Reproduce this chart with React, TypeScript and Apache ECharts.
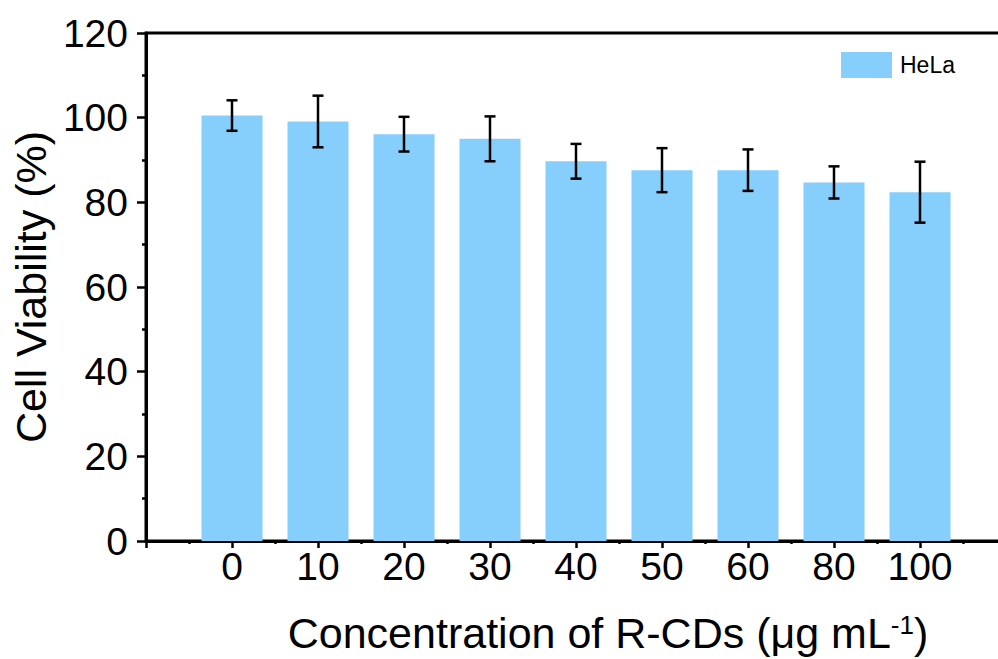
import React, { useEffect, useRef } from "react";
import * as echarts from "echarts";

const categories = ["0", "10", "20", "30", "40", "50", "60", "80", "100"];
const viability = [100.5, 99.1, 96.1, 95.0, 89.7, 87.6, 87.6, 84.7, 82.4];
const sd = [3.6, 6.1, 4.1, 5.3, 4.1, 5.2, 4.9, 3.8, 7.2];
const yTicks = [0, 20, 40, 60, 80, 100, 120];

const FONT = 'Arial, "Liberation Sans", sans-serif';
const BAR_COLOR = "#86CEFB";

export default function App() {
  const ref = useRef<HTMLDivElement>(null);
  useEffect(() => {
    document.body.style.margin = "0";
    if (!ref.current) return;
    const chart = echarts.init(ref.current, null, { renderer: "svg" });
    const barData = viability.map((v, i) => [i, v]);
    const errData = viability.map((v, i) => [i, v - sd[i], v + sd[i]]);
    chart.setOption({
      animation: false,
      backgroundColor: "#fff",
      textStyle: { fontFamily: FONT },
      grid: {
        left: 146,
        top: 33,
        width: 860,
        height: 508,
        outerBoundsMode: "none",
        containLabel: false,
        show: true,
        borderColor: "#000",
        borderWidth: 3,
        backgroundColor: "transparent",
      },
      legend: {
        data: ["HeLa"],
        left: 841,
        top: 52,
        padding: 0,
        icon: "rect",
        itemWidth: 51,
        itemHeight: 26,
        itemGap: 8,
        textStyle: { fontSize: 23, color: "#000", fontFamily: FONT, padding: [0, 0, 0, 3] },
      },
      xAxis: {
        type: "value",
        min: -1,
        max: 9,
        interval: 1,
        axisLine: { show: true, onZero: false, lineStyle: { color: "#000", width: 3 } },
        axisTick: { show: true, inside: false, length: 7, lineStyle: { color: "#000", width: 2.5 } },
        minorTick: { show: true, splitNumber: 2, length: 3, lineStyle: { color: "#000", width: 2.5 } },
        splitLine: { show: false },
        minorSplitLine: { show: false },
        axisLabel: {
          margin: 6,
          fontSize: 39,
          color: "#000",
          fontFamily: FONT,
          formatter: (v: number) => (v >= 0 && v < categories.length ? categories[v] : ""),
        },
      },
      yAxis: {
        type: "value",
        min: yTicks[0],
        max: yTicks[yTicks.length - 1],
        interval: 20,
        name: "Cell Viability (%)",
        nameLocation: "middle",
        nameRotate: 90,
        nameGap: 92,
        nameTextStyle: { fontSize: 43, color: "#000", fontFamily: FONT },
        axisLine: { show: true, onZero: false, lineStyle: { color: "#000", width: 3 } },
        axisTick: { show: true, inside: false, length: 9, lineStyle: { color: "#000", width: 2.5 } },
        minorTick: { show: true, splitNumber: 2, length: 4, lineStyle: { color: "#000", width: 2.5 } },
        splitLine: { show: false },
        axisLabel: { margin: 18, fontSize: 39, color: "#000", fontFamily: FONT },
      },
      graphic: [
        {
          type: "text",
          x: 608,
          y: 633,
          style: {
            text: "Concentration of R-CDs (μg mL{sup|-1})",
            fontSize: 43,
            fontFamily: FONT,
            fill: "#000",
            align: "center",
            verticalAlign: "middle",
            rich: {
              sup: { fontSize: 26, verticalAlign: "top", fontFamily: FONT, fill: "#000" },
            },
          },
        },
      ],
      series: [
        {
          name: "HeLa",
          type: "bar",
          data: barData,
          barWidth: 61,
          itemStyle: { color: BAR_COLOR },
          z: 2,
        },
        {
          name: "err",
          type: "custom",
          data: errData,
          z: 3,
          renderItem: (params: any, api: any) => {
            const x = api.value(0);
            const lo = api.coord([x, api.value(1)]);
            const hi = api.coord([x, api.value(2)]);
            const half = 5.5;
            const style = { stroke: "#000", lineWidth: 2.5 };
            return {
              type: "group",
              children: [
                { type: "line", shape: { x1: hi[0], y1: hi[1], x2: lo[0], y2: lo[1] }, style },
                { type: "line", shape: { x1: hi[0] - half, y1: hi[1], x2: hi[0] + half, y2: hi[1] }, style },
                { type: "line", shape: { x1: lo[0] - half, y1: lo[1], x2: lo[0] + half, y2: lo[1] }, style },
              ],
            };
          },
        },
      ],
    });
    return () => chart.dispose();
  }, []);
  return <div ref={ref} style={{ width: 998, height: 659 }} />;
}
